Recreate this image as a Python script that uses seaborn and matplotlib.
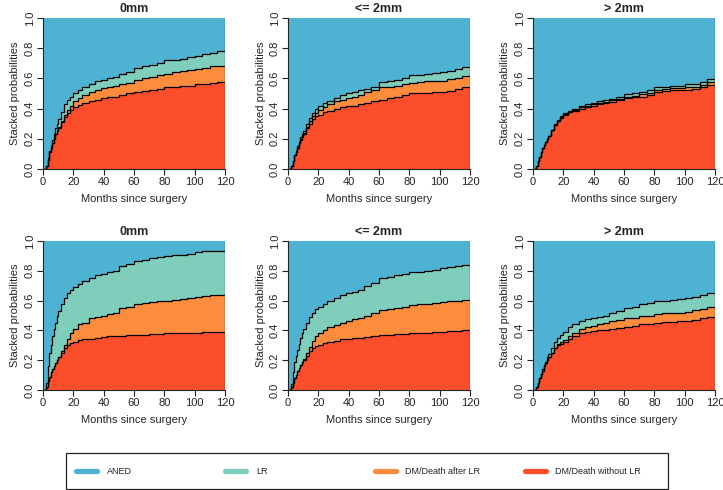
import matplotlib
matplotlib.use("Agg")
import matplotlib.pyplot as plt
from matplotlib.lines import Line2D
from matplotlib.patches import Rectangle
import seaborn as sns

# Time grid (months since surgery)
months = [0, 1, 2, 3, 4, 5, 6, 7, 8, 9, 10, 12, 14, 16, 18, 20, 23, 26, 30, 34, 38, 42, 46, 50,
          55, 60, 65, 70, 75, 80, 85, 90, 95, 100, 105, 110, 115, 120]

# Stacked cumulative boundaries per panel: red top, orange top, teal top
top_0mm_red = [0, 0, 0.02, 0.06, 0.11, 0.14, 0.17, 0.20, 0.23, 0.25, 0.27, 0.31, 0.345, 0.37, 0.39, 0.41,
               0.425, 0.44, 0.45, 0.46, 0.47, 0.475, 0.48, 0.49,
               0.50, 0.51, 0.515, 0.52, 0.53, 0.54, 0.545, 0.55, 0.55, 0.56, 0.565, 0.57, 0.575, 0.58]
top_0mm_orange = [0, 0, 0.02, 0.06, 0.11, 0.14, 0.17, 0.20, 0.23, 0.26, 0.28, 0.32, 0.36, 0.39, 0.42, 0.45,
                  0.47, 0.49, 0.51, 0.52, 0.535, 0.545, 0.55, 0.56,
                  0.57, 0.59, 0.60, 0.61, 0.62, 0.63, 0.64, 0.65, 0.655, 0.665, 0.67, 0.68, 0.685, 0.69]
top_0mm_teal = [0, 0, 0.02, 0.07, 0.12, 0.15, 0.19, 0.23, 0.27, 0.30, 0.33, 0.38, 0.43, 0.46, 0.48, 0.50,
                0.52, 0.54, 0.56, 0.58, 0.59, 0.60, 0.61, 0.63,
                0.645, 0.67, 0.68, 0.69, 0.70, 0.72, 0.725, 0.73, 0.74, 0.75, 0.76, 0.77, 0.78, 0.785]

top_le2_red = [0, 0, 0.02, 0.05, 0.09, 0.11, 0.14, 0.17, 0.19, 0.21, 0.23, 0.27, 0.30, 0.33, 0.35, 0.36,
               0.375, 0.385, 0.40, 0.41, 0.415, 0.42, 0.43, 0.44,
               0.45, 0.46, 0.47, 0.48, 0.49, 0.50, 0.50, 0.505, 0.51, 0.51, 0.515, 0.53, 0.54, 0.545]
top_le2_orange = [0, 0, 0.02, 0.05, 0.09, 0.11, 0.14, 0.17, 0.20, 0.22, 0.24, 0.28, 0.32, 0.35, 0.37, 0.39,
                  0.41, 0.43, 0.45, 0.46, 0.47, 0.48, 0.49, 0.51,
                  0.52, 0.54, 0.545, 0.55, 0.56, 0.57, 0.575, 0.58, 0.58, 0.585, 0.595, 0.60, 0.615, 0.62]
top_le2_teal = [0, 0, 0.02, 0.05, 0.09, 0.12, 0.15, 0.18, 0.21, 0.23, 0.25, 0.30, 0.34, 0.37, 0.40, 0.42,
                0.44, 0.45, 0.47, 0.49, 0.50, 0.51, 0.52, 0.53,
                0.545, 0.575, 0.58, 0.59, 0.60, 0.62, 0.625, 0.63, 0.635, 0.645, 0.65, 0.66, 0.675, 0.68]

top_gt2_red = [0, 0, 0.02, 0.05, 0.08, 0.11, 0.14, 0.16, 0.18, 0.20, 0.22, 0.26, 0.29, 0.32, 0.34, 0.36,
               0.375, 0.385, 0.40, 0.41, 0.42, 0.43, 0.435, 0.445,
               0.455, 0.47, 0.475, 0.48, 0.49, 0.51, 0.515, 0.52, 0.52, 0.525, 0.53, 0.54, 0.555, 0.56]
top_gt2_orange = [0, 0, 0.02, 0.05, 0.08, 0.11, 0.14, 0.16, 0.18, 0.20, 0.22, 0.26, 0.29, 0.32, 0.345, 0.365,
                  0.38, 0.39, 0.41, 0.42, 0.43, 0.44, 0.445, 0.455,
                  0.465, 0.48, 0.485, 0.495, 0.505, 0.525, 0.53, 0.535, 0.535, 0.54, 0.545, 0.555, 0.575, 0.585]
top_gt2_teal = [0, 0, 0.02, 0.05, 0.08, 0.11, 0.14, 0.16, 0.18, 0.20, 0.22, 0.26, 0.295, 0.325, 0.35, 0.37,
                0.385, 0.395, 0.42, 0.43, 0.44, 0.45, 0.455, 0.465,
                0.475, 0.495, 0.50, 0.51, 0.52, 0.54, 0.545, 0.55, 0.55, 0.56, 0.565, 0.575, 0.595, 0.605]

bot_0mm_red = [0, 0, 0.02, 0.06, 0.09, 0.12, 0.14, 0.16, 0.18, 0.20, 0.22, 0.25, 0.28, 0.30, 0.315, 0.325,
               0.335, 0.34, 0.345, 0.35, 0.355, 0.36, 0.36, 0.365,
               0.37, 0.37, 0.372, 0.375, 0.378, 0.38, 0.38, 0.38, 0.382, 0.385, 0.388, 0.39, 0.392, 0.395]
bot_0mm_orange = [0, 0, 0.02, 0.06, 0.09, 0.12, 0.14, 0.16, 0.18, 0.20, 0.22, 0.26, 0.30, 0.34, 0.38, 0.41,
                  0.44, 0.45, 0.48, 0.49, 0.50, 0.51, 0.52, 0.55,
                  0.56, 0.58, 0.585, 0.59, 0.595, 0.60, 0.605, 0.61, 0.615, 0.625, 0.63, 0.635, 0.64, 0.64]
bot_0mm_teal = [0, 0, 0.05, 0.16, 0.25, 0.30, 0.36, 0.41, 0.45, 0.50, 0.53, 0.58, 0.62, 0.65, 0.67, 0.69,
                0.71, 0.73, 0.75, 0.77, 0.78, 0.79, 0.80, 0.83,
                0.845, 0.865, 0.875, 0.885, 0.895, 0.90, 0.905, 0.905, 0.91, 0.925, 0.93, 0.93, 0.935, 0.935]

bot_le2_red = [0, 0, 0.02, 0.05, 0.08, 0.10, 0.13, 0.15, 0.17, 0.19, 0.20, 0.23, 0.26, 0.28, 0.295, 0.305,
               0.315, 0.325, 0.33, 0.34, 0.345, 0.35, 0.35, 0.355,
               0.36, 0.37, 0.372, 0.375, 0.378, 0.38, 0.383, 0.385, 0.388, 0.39, 0.393, 0.395, 0.40, 0.40]
bot_le2_orange = [0, 0, 0.02, 0.05, 0.08, 0.10, 0.13, 0.15, 0.17, 0.19, 0.21, 0.25, 0.29, 0.33, 0.36, 0.38,
                  0.40, 0.42, 0.435, 0.45, 0.465, 0.475, 0.485, 0.50,
                  0.52, 0.535, 0.545, 0.55, 0.56, 0.57, 0.575, 0.58, 0.585, 0.59, 0.595, 0.60, 0.603, 0.605]
bot_le2_teal = [0, 0, 0.04, 0.12, 0.19, 0.23, 0.27, 0.31, 0.35, 0.38, 0.41, 0.45, 0.49, 0.52, 0.545, 0.56,
                0.58, 0.60, 0.62, 0.635, 0.65, 0.66, 0.67, 0.70,
                0.72, 0.75, 0.76, 0.77, 0.78, 0.79, 0.795, 0.80, 0.805, 0.82, 0.825, 0.83, 0.84, 0.84]

bot_gt2_red = [0, 0, 0.02, 0.05, 0.08, 0.11, 0.13, 0.16, 0.18, 0.20, 0.22, 0.25, 0.28, 0.30, 0.31, 0.32,
               0.34, 0.36, 0.38, 0.39, 0.395, 0.40, 0.405, 0.41,
               0.415, 0.425, 0.43, 0.44, 0.445, 0.45, 0.455, 0.455, 0.46, 0.46, 0.47, 0.48, 0.49, 0.50]
bot_gt2_orange = [0, 0, 0.02, 0.05, 0.08, 0.11, 0.13, 0.16, 0.18, 0.20, 0.22, 0.25, 0.28, 0.31, 0.32, 0.335,
                  0.36, 0.385, 0.41, 0.42, 0.43, 0.44, 0.45, 0.46,
                  0.47, 0.48, 0.485, 0.495, 0.50, 0.51, 0.515, 0.515, 0.52, 0.525, 0.535, 0.545, 0.555, 0.56]
bot_gt2_teal = [0, 0, 0.02, 0.05, 0.08, 0.11, 0.14, 0.17, 0.19, 0.22, 0.24, 0.28, 0.32, 0.35, 0.37, 0.39,
                0.42, 0.44, 0.46, 0.475, 0.485, 0.49, 0.50, 0.515,
                0.53, 0.55, 0.56, 0.575, 0.585, 0.595, 0.60, 0.605, 0.61, 0.62, 0.625, 0.635, 0.65, 0.655]

titles = ["0mm", "<= 2mm", "> 2mm"]
states = ["ANED", "LR", "DM/Death after LR", "DM/Death without LR"]
colors = ["#4EB3D3", "#7FCDBB", "#FD8D3C", "#FC4E2A"]

panels = [
    (top_0mm_red, top_0mm_orange, top_0mm_teal),
    (top_le2_red, top_le2_orange, top_le2_teal),
    (top_gt2_red, top_gt2_orange, top_gt2_teal),
    (bot_0mm_red, bot_0mm_orange, bot_0mm_teal),
    (bot_le2_red, bot_le2_orange, bot_le2_teal),
    (bot_gt2_red, bot_gt2_orange, bot_gt2_teal),
]

sns.set_theme(style="ticks")
plt.rcParams["font.family"] = ["Liberation Sans", "DejaVu Sans"]

fig = plt.figure(figsize=(7.23, 4.90), dpi=100)
W, H = 723, 490
lefts = [43, 288, 533]
row_box = [(18, 169), (241, 390)]

for i, (red, orange, teal) in enumerate(panels):
    r, c = divmod(i, 3)
    top_px, bot_px = row_box[r]
    ax = fig.add_axes([lefts[c] / W, 1 - bot_px / H, 182 / W, (bot_px - top_px) / H])

    # Stacked areas as steps
    ax.fill_between(months, 0, 1, color=colors[0], step="post", lw=0)
    ax.fill_between(months, 0, teal, color=colors[1], step="post", lw=0)
    ax.fill_between(months, 0, orange, color=colors[2], step="post", lw=0)
    ax.fill_between(months, 0, red, color=colors[3], step="post", lw=0)

    for vals in (red, orange, teal):
        sns.lineplot(x=months, y=vals, drawstyle="steps-post", color="black",
                     lw=0.9, estimator=None, ax=ax)
    ax.axvline(120, color="#333333", lw=0.9)

    ax.set_xlim(0, 120)
    ax.set_ylim(0, 1)
    ax.set_xticks(range(0, 121, 20))
    ax.set_yticks([0, 0.2, 0.4, 0.6, 0.8, 1.0])
    ax.set_yticklabels(["0.0", "0.2", "0.4", "0.6", "0.8", "1.0"], rotation=90, va="center")
    ax.tick_params(labelsize=8, length=4, width=0.8, pad=2, colors="#222222")
    sns.despine(ax=ax)
    for s in ("left", "bottom"):
        ax.spines[s].set_linewidth(0.8)
        ax.spines[s].set_color("#222222")

    ax.set_title(titles[c], fontsize=9, fontweight="bold", pad=4)
    ax.set_ylabel("Stacked probabilities", fontsize=8, labelpad=3)
    ax.set_xlabel("Months since surgery", fontsize=8, labelpad=5)

# Legend box drawn by hand, four entries in a row
fig.add_artist(Rectangle((66 / W, 1 - 489 / H), (668 - 66) / W, 36 / H,
                         transform=fig.transFigure, fill=False, edgecolor="#222222", lw=0.9))
handle_x = [75.5, 224.5, 374.5, 524.5]
text_x = [107, 256, 405, 555]
ly = 1 - 471 / H
for hx, tx, col, lab in zip(handle_x, text_x, colors, states):
    fig.add_artist(Line2D([hx / W, (hx + 21) / W], [ly, ly], transform=fig.transFigure,
                          color=col, lw=3.8, solid_capstyle="round"))
    fig.text(tx / W, ly, lab, fontsize=6.5, va="center", ha="left", color="#222222")

plt.savefig("out.png", dpi=100)
